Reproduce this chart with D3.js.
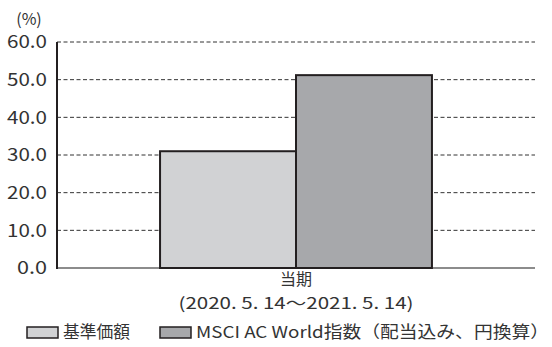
<!DOCTYPE html>
<html><head><meta charset="utf-8">
<script src="https://cdn.jsdelivr.net/npm/d3@7"></script>
<style>body{margin:0;background:#fff}svg{display:block}text{font-family:"Noto Sans CJK JP","Noto Sans",sans-serif;fill:#231f20}</style>
</head><body><svg id="c" width="552" height="347"></svg>
<script>
const categories = ["当期"];
const periodLabels = ["(2020. 5. 14～2021. 5. 14)"];
const seriesNames = ["基準価額", "MSCI AC World指数（配当込み、円換算）"];
const seriesValues = [[31.0], [51.2]];
const yTicks = [0, 10, 20, 30, 40, 50, 60];
const colors = ["#d1d2d4", "#a7a8ab"];

const svg = d3.select("#c");
const m = {left: 57, right: 535, top: 42, bottom: 268};
const x = d3.scaleBand().domain(categories).range([m.left, m.right]).paddingInner(0).paddingOuter(0.379);
const xs = d3.scaleBand().domain(d3.range(seriesNames.length)).range([0, x.bandwidth()]);
const y = d3.scaleLinear().domain([0, 60]).range([m.bottom, m.top]);

// gridlines
svg.append("g").selectAll("line").data(yTicks.filter(d => d > 0)).join("line")
  .attr("x1", m.left).attr("x2", m.right)
  .attr("y1", d => y(d)).attr("y2", d => y(d))
  .attr("stroke", "#333").attr("stroke-width", 1).attr("stroke-dasharray", "4,2.5");

// y tick labels
svg.append("g").selectAll("text").data(yTicks).join("text")
  .attr("x", 47).attr("y", d => y(d)).attr("dy", "0.36em")
  .attr("text-anchor", "end").attr("font-size", 17.5).style("fill", "#333")
  .attr("textLength", d => d >= 10 ? 40 : 30).attr("lengthAdjust", "spacingAndGlyphs")
  .text(d => d.toFixed(1));
svg.append("text").attr("x", 29).attr("y", 19).attr("dy", "0.36em").attr("text-anchor", "middle")
  .attr("font-size", 16).style("fill", "#333").text("(%)");

// baseline
svg.append("line").attr("x1", m.left).attr("x2", m.right).attr("y1", y(0)).attr("y2", y(0))
  .attr("stroke", "#666").attr("stroke-width", 1.5);

// bars
const g = svg.append("g");
categories.forEach((c, ci) => {
  seriesNames.forEach((s, si) => {
    const v = seriesValues[si][ci];
    g.append("rect")
      .attr("x", x(c) + xs(si)).attr("width", xs.bandwidth())
      .attr("y", y(v)).attr("height", y(0) - y(v))
      .attr("fill", colors[si]).attr("stroke", "#231f20").attr("stroke-width", 2);
  });
});

// y axis line
svg.append("line").attr("x1", m.left).attr("x2", m.left).attr("y1", y(60)).attr("y2", y(0) + 1)
  .attr("stroke", "#231f20").attr("stroke-width", 2);

// category labels
categories.forEach((c, i) => {
  const cx = x(c) + x.bandwidth() / 2;
  svg.append("text").attr("x", cx).attr("y", 284.5).attr("text-anchor", "middle").attr("font-size", 16).style("fill", "#333").text(c);
  svg.append("text").attr("x", cx).attr("y", 308.5).attr("text-anchor", "middle").attr("font-size", 16)
    .attr("textLength", 235).attr("lengthAdjust", "spacingAndGlyphs").style("fill", "#333").text(periodLabels[i]);
});

// legend
const legX = [27, 160];
const legW = [67, 353];
seriesNames.forEach((s, i) => {
  svg.append("rect").attr("x", legX[i]).attr("y", 327).attr("width", 31).attr("height", 11)
    .attr("fill", colors[i]).attr("stroke", "#231f20").attr("stroke-width", 1.5);
  svg.append("text").attr("x", legX[i] + 36).attr("y", 332).attr("dy", "0.36em")
    .attr("font-size", 16.5).attr("textLength", legW[i]).attr("lengthAdjust", "spacingAndGlyphs")
    .style("fill", "#333").text(s);
});
</script></body></html>
